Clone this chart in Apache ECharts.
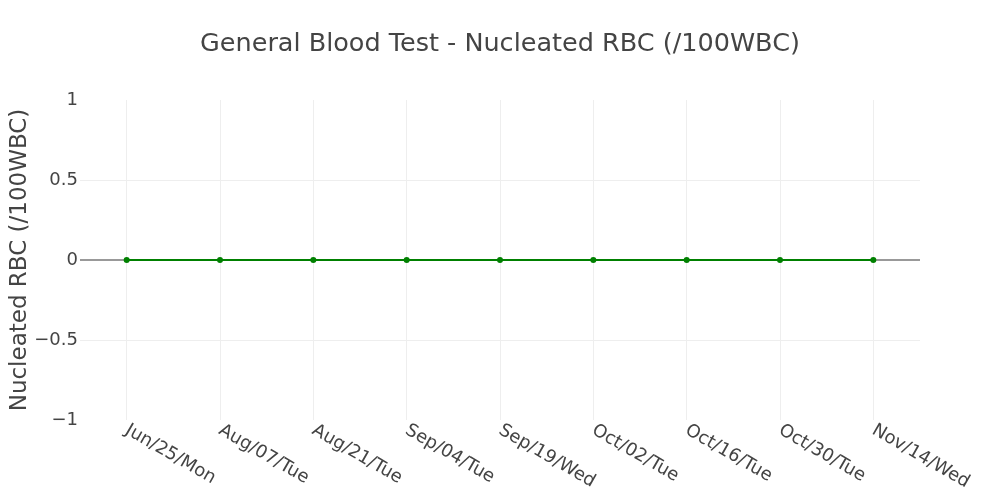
<!DOCTYPE html>
<html>
<head>
<meta charset="utf-8">
<script src="https://cdn.jsdelivr.net/npm/echarts@6/dist/echarts.min.js"></script>
<style>
  html, body { margin: 0; padding: 0; background: #fff; }
  #chart { width: 1000px; height: 500px; }
</style>
</head>
<body>
<div id="chart"></div>
<script>
// test dates and values
var dates = ['Jun/25/Mon', 'Aug/07/Tue', 'Aug/21/Tue', 'Sep/04/Tue', 'Sep/19/Wed',
  'Oct/02/Tue', 'Oct/16/Tue', 'Oct/30/Tue', 'Nov/14/Wed']
var nrbc = [0, 0, 0, 0, 0, 0, 0, 0, 0]
var yTicks = [-1, -0.5, 0, 0.5, 1]

var font = '"DejaVu Sans", Verdana, sans-serif'

var myChart = echarts.init(document.getElementById('chart'))
var option = {
    animation: false,
    title: {
        text: 'General Blood Test - Nucleated RBC (/100WBC)',
        left: 'center',
        top: 26,
        textStyle: {
            color: '#444',
            fontSize: 25.5,
            fontWeight: 'normal',
            fontFamily: font
        }
    },
    grid: {
        left: 80,
        right: 80,
        top: 100,
        bottom: 80,
        outerBoundsMode: 'none'
    },
    xAxis: {
        type: 'category',
        data: dates,
        boundaryGap: true,
        axisLine: { show: false },
        axisTick: { show: false },
        splitLine: { show: false },
        axisLabel: {
            rotate: -30,
            margin: 9,
            color: '#444',
            fontSize: 18,
            fontFamily: font,
            interval: 0
        }
    },
    yAxis: {
        type: 'value',
        min: yTicks[0],
        max: yTicks[yTicks.length - 1],
        interval: 0.5,
        name: 'Nucleated RBC (/100WBC)',
        nameLocation: 'middle',
        nameGap: 48,
        nameMoveOverlap: false,
        nameTextStyle: {
            color: '#444',
            fontSize: 23,
            fontFamily: font
        },
        axisLine: { show: false },
        axisTick: { show: false },
        axisLabel: {
            color: '#444',
            fontSize: 18,
            fontFamily: font,
            margin: 2,
            formatter: function (v) {
                return v < 0 ? '\u2212' + Math.abs(v) : String(v)
            }
        },
        splitLine: {
            show: true,
            showMinLine: false,
            showMaxLine: false,
            lineStyle: { color: '#eee', width: 1 }
        }
    },
    series: [{
        // grid lines through the points and the zero line
        type: 'line',
        data: [],
        silent: true,
        z: 1,
        markLine: {
            silent: true,
            z: 1,
            symbol: 'none',
            label: { show: false },
            animation: false,
            data: dates.map(function (d) {
                return { xAxis: d, lineStyle: { color: '#eee', width: 1, type: 'solid' } }
            }).concat([{ yAxis: 0, lineStyle: { color: '#999', width: 2, type: 'solid' } }])
        }
    }, {
        name: 'Nucleated RBC',
        type: 'line',
        data: nrbc,
        z: 3,
        symbol: 'circle',
        symbolSize: 6,
        lineStyle: { color: '#008000', width: 2 },
        itemStyle: { color: '#008000' }
    }]
}
myChart.setOption(option)
</script>
</body>
</html>
